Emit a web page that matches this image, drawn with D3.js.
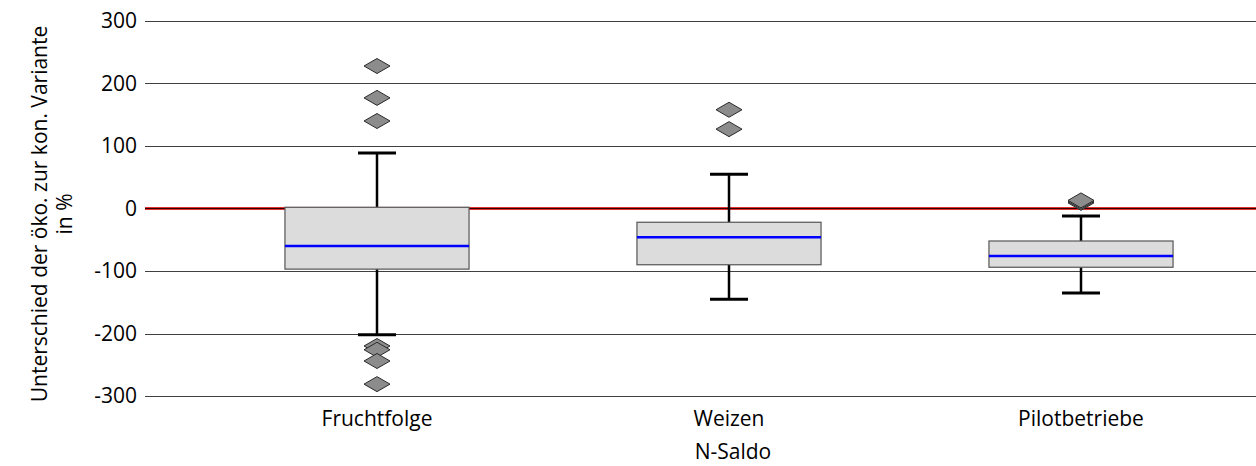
<!DOCTYPE html>
<html><head><meta charset="utf-8">
<script src="https://cdn.jsdelivr.net/npm/d3@7"></script>
<style>body{margin:0;background:#fff}svg{display:block}text{font-family:"Open Sans",sans-serif;fill:#000}</style>
</head><body><svg id="c" width="1256" height="466"></svg>
<script>
const categories = ["Fruchtfolge", "Weizen", "Pilotbetriebe"];
const whiskerLow  = [-202, -145, -135];
const q1          = [-97, -90, -94];
const median      = [-60, -46, -76];
const q3          = [2, -22, -52];
const whiskerHigh = [89, 55, -12];
const outliers = [
  [228, 177, 140, -220, -226, -244, -281],
  [158, 127],
  [9, 11, 13]
];
const yTicks = [-300, -200, -100, 0, 100, 200, 300];
const yTitle = ["Unterschied der öko. zur kon. Variante", "in %"];
const xTitle = "N-Saldo";

const FS = 21;
const svg = d3.select("#c");
const W = 1256;
const y = d3.scaleLinear().domain([-300, 300]).range([396, 21]);
const x = d3.scaleBand().domain(categories).range([201, 1257]).paddingInner(0.477).paddingOuter(0.2385);
const gridLeft = 145;

// gridlines
svg.append("g").selectAll("line").data(yTicks.filter(d => d !== 0)).join("line")
  .attr("x1", gridLeft).attr("x2", W)
  .attr("y1", d => Math.round(y(d)) + 0.5).attr("y2", d => Math.round(y(d)) + 0.5)
  .attr("stroke", "#404040").attr("stroke-width", 1);
// zero line
svg.append("line").attr("x1", gridLeft).attr("x2", W).attr("y1", y(0)).attr("y2", y(0))
  .attr("stroke", "#e03030").attr("stroke-width", 3);
svg.append("line").attr("x1", gridLeft).attr("x2", W).attr("y1", y(0)).attr("y2", y(0))
  .attr("stroke", "#300000").attr("stroke-width", 1.2);

// y tick labels
const yAxis = d3.axisLeft(y).tickValues(yTicks).tickSize(0).tickPadding(0).tickFormat(d => String(d));
const ga = svg.append("g").attr("transform", "translate(137,0)").call(yAxis);
ga.select(".domain").remove();
ga.selectAll("text").attr("font-size", FS).attr("font-family", '"Open Sans",sans-serif').attr("fill", "#000");

// x labels
const xAxis = d3.axisBottom(x).tickSize(0).tickPadding(0);
const gx = svg.append("g").attr("transform", "translate(0,411)").call(xAxis);
gx.select(".domain").remove();
gx.selectAll("text").attr("font-size", FS).attr("font-family", '"Open Sans",sans-serif').attr("fill", "#000");

const idx = categories.map((c, i) => i);
const g = svg.append("g");
const cx = i => x(categories[i]) + x.bandwidth() / 2;
const capW = 38;

// whiskers
idx.forEach(i => {
  g.append("line").attr("x1", cx(i)).attr("x2", cx(i)).attr("y1", y(whiskerHigh[i])).attr("y2", y(q3[i]))
    .attr("stroke", "#000").attr("stroke-width", 2.5);
  g.append("line").attr("x1", cx(i)).attr("x2", cx(i)).attr("y1", y(q1[i])).attr("y2", y(whiskerLow[i]))
    .attr("stroke", "#000").attr("stroke-width", 2.5);
  [whiskerHigh[i], whiskerLow[i]].forEach(v => {
    g.append("line").attr("x1", cx(i) - capW / 2).attr("x2", cx(i) + capW / 2).attr("y1", y(v)).attr("y2", y(v))
      .attr("stroke", "#000").attr("stroke-width", 3);
  });
});
// boxes
g.selectAll("rect.box").data(idx).join("rect").attr("class", "box")
  .attr("x", i => x(categories[i])).attr("width", x.bandwidth())
  .attr("y", i => y(q3[i])).attr("height", i => y(q1[i]) - y(q3[i]))
  .attr("fill", "#dcdcdc").attr("stroke", "#555").attr("stroke-width", 1.2);
// medians
g.selectAll("line.med").data(idx).join("line").attr("class", "med")
  .attr("x1", i => x(categories[i])).attr("x2", i => x(categories[i]) + x.bandwidth())
  .attr("y1", i => y(median[i])).attr("y2", i => y(median[i]))
  .attr("stroke", "#0000ff").attr("stroke-width", 2.5);

// outliers
const dw = 13, dh = 7.5;
idx.forEach(i => {
  g.selectAll(null).data(outliers[i]).join("path")
    .attr("d", v => { const px = cx(i), py = y(v); return `M${px - dw},${py}L${px},${py - dh}L${px + dw},${py}L${px},${py + dh}Z`; })
    .attr("fill", "#8c8c8c").attr("stroke", "#2a2a2a").attr("stroke-width", 1);
});

// titles
svg.append("text").attr("x", 733).attr("y", 459).attr("text-anchor", "middle").attr("font-size", FS).text(xTitle);
const yt = svg.append("text").attr("transform", "translate(47,214) rotate(-90)").attr("text-anchor", "middle").attr("font-size", FS);
yt.append("tspan").attr("x", 0).attr("dy", 0).text(yTitle[0]);
yt.append("tspan").attr("x", 0).attr("dy", 25).text(yTitle[1]);
</script></body></html>
